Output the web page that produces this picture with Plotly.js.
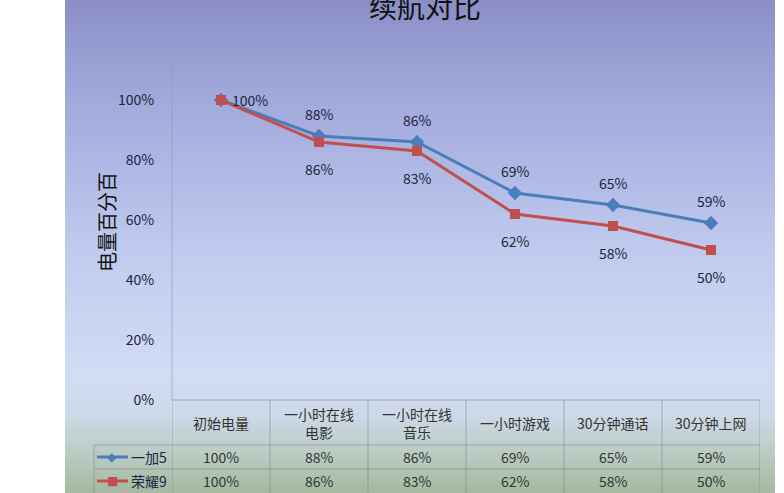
<!DOCTYPE html>
<html>
<head>
<meta charset="utf-8">
<script src="https://cdn.plot.ly/plotly-3.0.1.min.js"></script>
<style>
html,body{margin:0;padding:0;background:#ffffff;width:784px;height:493px;overflow:hidden;}
#bg{position:absolute;left:65px;top:0;width:710px;height:493px;
background:linear-gradient(to bottom,#8b8fc6 0px,#a2a9dc 100px,#c0caee 250px,#d2dcf5 375px,#cdd9e8 415px,#b7c9bd 460px,#a4b99f 493px);}
#chart{position:absolute;left:0;top:0;width:784px;height:493px;}
</style>
</head>
<body>
<div id="bg"></div>
<div id="chart"></div>
<script>
const title = "续航对比";
const yTitle = "电量百分百";
const categories = ["初始电量", "一小时在线<br>电影", "一小时在线<br>音乐", "一小时游戏", "30分钟通话", "30分钟上网"];
const seriesNames = ["一加5", "荣耀9"];
const oneplus5 = [1.00, 0.88, 0.86, 0.69, 0.65, 0.59];
const honor9 = [1.00, 0.86, 0.83, 0.62, 0.58, 0.50];
const yTickVals = [0, 0.2, 0.4, 0.6, 0.8, 1.0];
const yTickText = ["0%", "20%", "40%", "60%", "80%", "100%"];

const blue = "#4a7ebb", red = "#c0504d";
const font = "'Noto Sans CJK SC', 'Noto Sans', sans-serif";
const xs = categories.map((c, i) => i);
const pct = v => Math.round(v * 100) + "%";

const traces = [
  {x: xs, y: oneplus5, name: seriesNames[0], mode: "lines+markers", type: "scatter",
   line: {color: blue, width: 3}, marker: {symbol: "diamond", size: 11, color: blue}},
  {x: xs, y: honor9, name: seriesNames[1], mode: "lines+markers", type: "scatter",
   line: {color: red, width: 3}, marker: {symbol: "square", size: 10, color: red}}
];

// plot geometry: paper y=0 at 0% line, plot height 338px
const H = 338;
const py = px => (400 - px) / H; // page pixel -> paper y
const pxp = px => (px - 172) / 588; // page pixel -> paper x
const ann = [];
const shapes = [];
const A = o => Object.assign({showarrow: false, xanchor: "center", yanchor: "middle"}, o);
const labelFont = {family: font, size: 14, color: "#22243a"};

// data labels
oneplus5.forEach((v, i) => {
  if (i === 0) return;
  ann.push(A({x: i, y: v, xref: "x", yref: "y", text: pct(v), yshift: 22, font: labelFont}));
});
honor9.forEach((v, i) => {
  if (i === 0) {
    ann.push(A({x: i, y: v, xref: "x", yref: "y", text: pct(v), xshift: 29, font: labelFont}));
    return;
  }
  ann.push(A({x: i, y: v, xref: "x", yref: "y", text: pct(v), yshift: -27, font: labelFont}));
});

// title and y title
ann.push(A({xref: "paper", yref: "paper", x: pxp(425), y: py(6), text: title,
  font: {family: font, size: 28, color: "#111111"}}));
ann.push(A({xref: "paper", yref: "paper", x: pxp(106), y: py(222), text: yTitle,
  textangle: -90, font: {family: font, size: 20, color: "#111111"}}));

// data table
const tableTop = py(400), row1 = py(445), row2 = py(469), row3 = py(493);
const lineCol = "rgba(120,130,150,0.55)";
shapes.push({type: "line", xref: "x", yref: "paper", x0: -0.5, x1: 5.5, y0: tableTop, y1: tableTop, line: {color: lineCol, width: 1}});
[row1, row2].forEach(yy => shapes.push({type: "line", xref: "paper", yref: "paper", x0: pxp(94), x1: 1, y0: yy, y1: yy, line: {color: lineCol, width: 1}}));
for (let i = 0; i <= categories.length; i++) {
  shapes.push({type: "line", xref: "x", yref: "paper", x0: i - 0.5, x1: i - 0.5, y0: row3, y1: tableTop, line: {color: lineCol, width: 1}});
}
shapes.push({type: "line", xref: "paper", yref: "paper", x0: pxp(94), x1: pxp(94), y0: row3, y1: row1, line: {color: lineCol, width: 1}});
shapes.push({type: "line", xref: "paper", yref: "paper", x0: 0, x1: 0, y0: tableTop, y1: 1, line: {color: "rgba(140,150,190,0.6)", width: 1}});

const cellFont = {family: font, size: 14, color: "#333333"};
categories.forEach((c, i) => {
  ann.push(A({x: i, xref: "x", yref: "paper", y: (row1 + tableTop) / 2, text: c, font: cellFont}));
  ann.push(A({x: i, xref: "x", yref: "paper", y: (row1 + row2) / 2, text: pct(oneplus5[i]), font: cellFont}));
  ann.push(A({x: i, xref: "x", yref: "paper", y: (row2 + row3) / 2, text: pct(honor9[i]), font: cellFont}));
});

// legend keys in table
const keyRows = [(row1 + row2) / 2, (row2 + row3) / 2];
[[blue, "◆", seriesNames[0], 12], [red, "■", seriesNames[1], 12]].forEach((k, j) => {
  const yy = keyRows[j];
  shapes.push({type: "line", xref: "paper", yref: "paper", x0: pxp(97), x1: pxp(128), y0: yy, y1: yy, line: {color: k[0], width: 3}});
  ann.push(A({xref: "paper", yref: "paper", x: pxp(112), y: yy, text: k[1],
    font: {family: "DejaVu Sans", size: k[3], color: k[0]}}));
  ann.push(A({xref: "paper", yref: "paper", x: pxp(129), y: yy, xanchor: "left", text: k[2],
    font: {family: font, size: 14, color: "#222244"}}));
});

const layout = {
  width: 784, height: 493,
  margin: {l: 172, r: 24, t: 62, b: 93},
  paper_bgcolor: "rgba(0,0,0,0)", plot_bgcolor: "rgba(0,0,0,0)",
  showlegend: false,
  xaxis: {range: [-0.5, 5.5], showticklabels: false, showgrid: false, zeroline: false, showline: false, fixedrange: true},
  yaxis: {range: [0, 1.1267], tickvals: yTickVals, ticktext: yTickText, showgrid: false, zeroline: false, showline: false,
    ticks: "outside", ticklen: 14, tickcolor: "rgba(0,0,0,0)",
    tickfont: {family: font, size: 14, color: "#22243a"}},
  annotations: ann,
  shapes: shapes
};

Plotly.newPlot("chart", traces, layout, {displayModeBar: false, staticPlot: true});
</script>
</body>
</html>
